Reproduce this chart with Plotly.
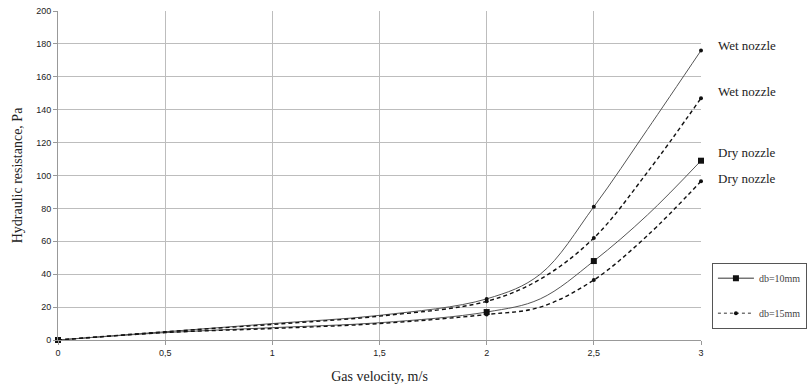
import plotly.graph_objects as go

# Gas velocity (m/s) sample points
velocity = [0, 0.5, 1, 1.5, 2, 2.25, 2.5, 2.75, 3]
wet_10 = [0, 5, 10, 15, 25, 40, 81, 128, 176]
wet_15 = [0, 5, 9.5, 14.5, 23.5, 37, 62, 102, 147]
dry_10 = [0, 4.5, 7.5, 10.5, 17, 25, 48, 76, 109]
dry_15 = [0, 4.5, 7, 10, 15.5, 20, 36.5, 63.5, 96.5]

# Points where markers are drawn
marker_velocity = [0, 2, 2.5, 3]
wet_10_m = [0, 25, 81, 176]
wet_15_m = [0, 23.5, 62, 147]
dry_10_m = [0, 17, 48, 109]
dry_15_m = [0, 15.5, 36.5, 96.5]

x_ticks = [0, 0.5, 1, 1.5, 2, 2.5, 3]
x_tick_labels = ["0", "0,5", "1", "1,5", "2", "2,5", "3"]
y_ticks = list(range(0, 201, 20))

curve_labels = ["Wet nozzle", "Wet nozzle", "Dry nozzle", "Dry nozzle"]
curve_label_y = [179, 151, 114, 98]
legend_names = ["db=10mm", "db=15mm"]

SERIF = "Times New Roman, Liberation Serif, DejaVu Serif, serif"
SANS = "Arial, Liberation Sans, sans-serif"

solid = dict(color="#555555", width=1)
dashed = dict(color="#111111", width=1.4, dash="4px,3px")

fig = go.Figure()
series = [
    (wet_10, wet_10_m, solid, "circle", 4),
    (wet_15, wet_15_m, dashed, "circle", 4),
    (dry_10, dry_10_m, solid, "square", 6),
    (dry_15, dry_15_m, dashed, "circle", 4),
]
for ys, ym, ln, sym, sz in series:
    fig.add_trace(go.Scatter(x=velocity, y=ys, mode="lines",
                             line=dict(shape="spline", smoothing=1.0, **ln),
                             showlegend=False, hoverinfo="skip", cliponaxis=False))
    fig.add_trace(go.Scatter(x=marker_velocity, y=ym, mode="markers",
                             marker=dict(symbol=sym, size=sz, color="#111111"),
                             showlegend=False, cliponaxis=False))

# legend entries
fig.add_trace(go.Scatter(x=[None], y=[None], mode="lines+markers", name=legend_names[0],
                         line=dict(color="#333333", width=1),
                         marker=dict(symbol="square", size=6, color="#111111"),
                         legendgroup="a"))
fig.add_trace(go.Scatter(x=[None], y=[None], mode="lines+markers", name=legend_names[1],
                         line=dict(color="#333333", width=1, dash="3px,3px"),
                         marker=dict(symbol="circle", size=4, color="#111111"),
                         legendgroup="b"))

for txt, yv in zip(curve_labels, curve_label_y):
    fig.add_annotation(x=1.0, xref="paper", y=yv, yref="y", text=txt,
                       showarrow=False, xanchor="left", xshift=15,
                       font=dict(family=SERIF, size=13, color="#222222"))

fig.update_layout(
    width=808, height=388,
    margin=dict(l=58, r=107, t=11, b=48, autoexpand=False),
    paper_bgcolor="white", plot_bgcolor="white",
    legend=dict(x=1.017, xanchor="left", y=0.235, yanchor="top",
                bordercolor="#555555", borderwidth=1,
                font=dict(family=SERIF, size=10, color="#444444"),
                tracegroupgap=16, traceorder="grouped",
                itemwidth=36),
    xaxis=dict(range=[0, 3], tickvals=x_ticks, ticktext=x_tick_labels,
               automargin=False,
               showgrid=True, gridcolor="#bdbdbd", gridwidth=1,
               zeroline=False, showline=True, linecolor="#999999",
               ticks="outside", ticklen=4, tickcolor="#999999",
               tickfont=dict(family=SANS, size=9, color="#222222"),
               title=dict(text="Gas velocity, m/s", standoff=14,
                          font=dict(family=SERIF, size=14, color="#222222"))),
    yaxis=dict(range=[0, 200], tickvals=y_ticks,
               automargin=False,
               showgrid=True, gridcolor="#bdbdbd", gridwidth=1,
               zeroline=False, showline=True, linecolor="#999999",
               ticks="outside", ticklen=4, tickcolor="#999999",
               tickfont=dict(family=SANS, size=9, color="#222222"),
               title=dict(text="Hydraulic resistance, Pa", standoff=10,
                          font=dict(family=SERIF, size=14, color="#222222"))),
)

fig.write_html("out.html", config={"displayModeBar": False},
               post_script="document.body.style.margin='0';document.body.style.overflow='hidden';")
